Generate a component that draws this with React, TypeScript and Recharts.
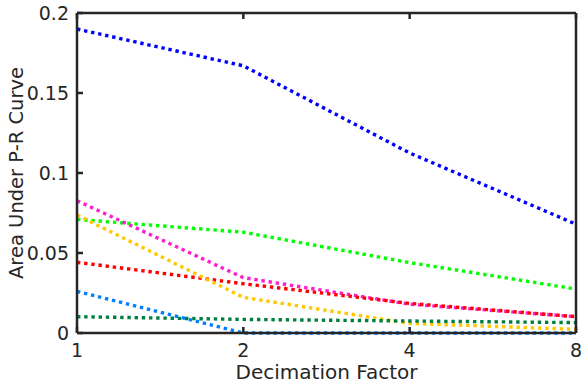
import React from 'react';
import { LineChart, Line, XAxis, YAxis, ReferenceLine } from 'recharts';

const factors = [1, 2, 4, 8];
const xTicks = [1, 2, 4, 8];
const yTicks = [0, 0.05, 0.1, 0.15, 0.2];

const blue = [0.19, 0.167, 0.1125, 0.068];
const lime = [0.071, 0.063, 0.044, 0.0275];
const magenta = [0.0827, 0.0346, 0.018, 0.0102];
const red = [0.0442, 0.0308, 0.0185, 0.0102];
const gold = [0.0737, 0.0223, 0.006, 0.0023];
const sky = [0.026, 0, 0, 0];
const darkGreen = [0.0102, 0.0085, 0.0075, 0.0065];

const series = [
  { key: 'blue', values: blue, color: '#0000ff' },
  { key: 'lime', values: lime, color: '#00ff00' },
  { key: 'magenta', values: magenta, color: '#ff1dce' },
  { key: 'red', values: red, color: '#ff0000' },
  { key: 'gold', values: gold, color: '#ffc800' },
  { key: 'sky', values: sky, color: '#0080ff' },
  { key: 'darkGreen', values: darkGreen, color: '#008040' },
];

const data = factors.map((f, i) => {
  const row: Record<string, number> = { factor: f };
  series.forEach((s) => {
    row[s.key] = s.values[i];
  });
  return row;
});

const axisColor = '#262626';
const font = 'DejaVu Sans, sans-serif';
// default recharts tickSize (6) + tickMargin (2)
const GAP = 8;
const TICK = 6;
const TW = 2.5;
const hidden = { stroke: 'none' };

// inward tick marks, drawn by hand
function BottomTick(props: any) {
  const cx = Number(props.x);
  const axisY = Number(props.y) - GAP;
  return (
    <g>
      <rect x={cx - TW / 2} y={axisY - TICK} width={TW} height={TICK} fill={axisColor} />
      <text x={cx} y={axisY + 24} textAnchor="middle" fill={axisColor} fontSize={19} fontFamily={font}>
        {props.payload?.value}
      </text>
    </g>
  );
}

function TopTick(props: any) {
  const cx = Number(props.x);
  const axisY = Number(props.y) + GAP;
  return <rect x={cx - TW / 2} y={axisY} width={TW} height={TICK} fill={axisColor} />;
}

function LeftTick(props: any) {
  const axisX = Number(props.x) + GAP;
  const cy = Number(props.y);
  return (
    <g>
      <rect x={axisX} y={cy - TW / 2} width={TICK} height={TW} fill={axisColor} />
      <text x={axisX - 8} y={cy + 7} textAnchor="end" fill={axisColor} fontSize={19} fontFamily={font}>
        {props.payload?.value}
      </text>
    </g>
  );
}

function RightTick(props: any) {
  const axisX = Number(props.x) - GAP;
  const cy = Number(props.y);
  return <rect x={axisX - TICK} y={cy - TW / 2} width={TICK} height={TW} fill={axisColor} />;
}

export default function App() {
  return (
    <div style={{ position: 'absolute', left: 0, top: 0, background: '#fff', fontFamily: font }}>
      <LineChart width={582} height={386} data={data} margin={{ top: 3, right: 0, bottom: 0, left: 0 }}>
        <XAxis
          dataKey="factor"
          type="number"
          scale="log"
          domain={[1, 8]}
          ticks={xTicks}
          allowDataOverflow
          height={53}
          tickLine={hidden}
          axisLine={hidden}
          tick={BottomTick}
          label={{ value: 'Decimation Factor', position: 'insideBottom', offset: 7, fill: axisColor, fontSize: 20, fontFamily: font }}
        />
        <XAxis
          xAxisId="top"
          dataKey="factor"
          type="number"
          scale="log"
          domain={[1, 8]}
          ticks={xTicks}
          allowDataOverflow
          orientation="top"
          height={10}
          tickLine={hidden}
          axisLine={hidden}
          tick={TopTick}
        />
        <YAxis
          domain={[0, 0.2]}
          ticks={yTicks}
          width={77}
          tickLine={hidden}
          axisLine={hidden}
          tick={LeftTick}
          label={{
            value: 'Area Under P-R Curve',
            angle: -90,
            position: 'insideLeft',
            offset: 16,
            fill: axisColor,
            fontSize: 19.5,
            fontFamily: font,
            style: { textAnchor: 'middle' },
          }}
        />
        <YAxis
          yAxisId="right"
          orientation="right"
          domain={[0, 0.2]}
          ticks={yTicks}
          width={6}
          tickLine={hidden}
          axisLine={hidden}
          tick={RightTick}
        />
        {series.map((s) => (
          <Line
            key={s.key}
            type="linear"
            dataKey={s.key}
            stroke={s.color}
            strokeWidth={3.4}
            strokeDasharray="3.4 3.8"
            dot={false}
            activeDot={false}
            isAnimationActive={false}
          />
        ))}
        <ReferenceLine x={1} stroke={axisColor} strokeWidth={2.5} ifOverflow="visible" />
        <ReferenceLine x={8} stroke={axisColor} strokeWidth={2.5} ifOverflow="visible" />
        <ReferenceLine y={0} stroke={axisColor} strokeWidth={2.5} ifOverflow="visible" />
        <ReferenceLine y={0.2} stroke={axisColor} strokeWidth={2.5} ifOverflow="visible" />
      </LineChart>
    </div>
  );
}
